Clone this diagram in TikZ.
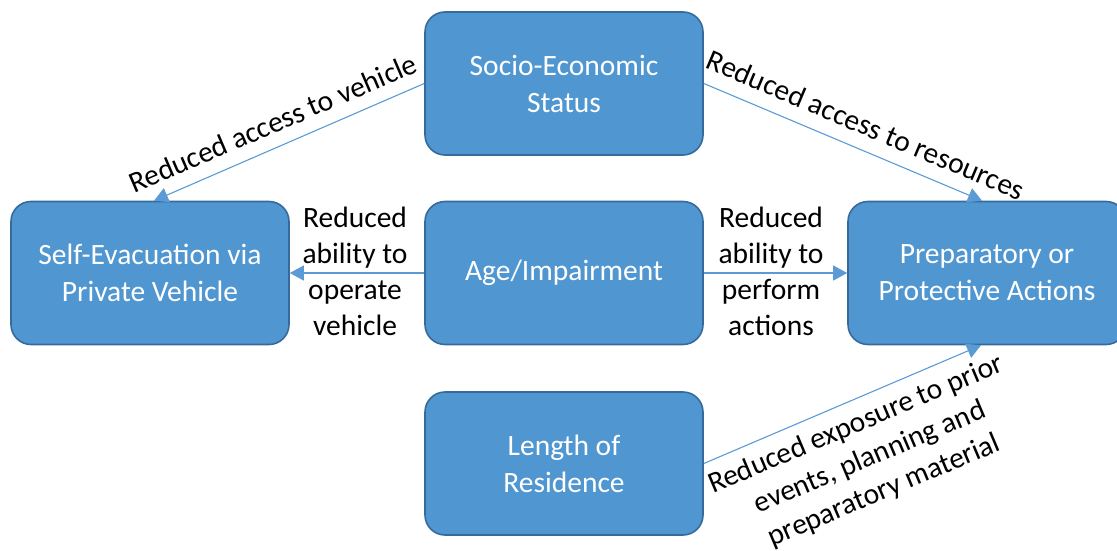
\documentclass[tikz,border=0pt]{standalone}
\usepackage{fontspec}
\setmainfont{Carlito}
\usetikzlibrary{arrows.meta}
\definecolor{boxfill}{RGB}{80,150,208}
\definecolor{boxline}{RGB}{55,106,156}
\definecolor{arrowc}{RGB}{91,155,213}
\tikzset{
  box/.style={rectangle, rounded corners=20pt, fill=boxfill, draw=boxline, line width=1.6pt,
    minimum width=278pt, minimum height=143pt, text=white, align=center,
    font=\fontsize{29.5}{37}\selectfont, inner sep=0pt},
  lbl/.style={align=center, text=black, font=\fontsize{29.5}{36}\selectfont, inner sep=0pt},
  conn/.style={draw=arrowc, line width=1.1pt, -{Triangle[length=14pt,width=15pt]}}
}
\begin{document}
\begin{tikzpicture}[x=1pt,y=1pt]
\useasboundingbox (0,0) rectangle (1117,-551);
\node[box] (ses) at (564,-83.5) {Socio-Economic\\Status};
\node[box] (self) at (150,-273) {Self-Evacuation via\\Private Vehicle};
\node[box] (age) at (564,-273) {Age/Impairment};
\node[box] (prep) at (987,-273) {Preparatory or\\Protective Actions};
\node[box] (len) at (564,-463.5) {Length of\\Residence};

\draw[conn] (ses.west) -- ([xshift=4pt]self.north);
\draw[conn] (ses.east) -- ([xshift=-5pt]prep.north);
\draw[conn] (age.west) -- (self.east);
\draw[conn] (age.east) -- (prep.west);
\draw[conn] (len.east) -- ([xshift=-6pt]prep.south);

\node[lbl, rotate=23.2] (l1) at (273,-123) {Reduced access to vehicle};
\node[lbl, rotate=-22.9] (l2) at (866,-125) {Reduced access to resources};
\node[lbl] (l3) at (355,-271) {Reduced\\ability to\\operate\\vehicle};
\node[lbl] (l4) at (771,-271) {Reduced\\ability to\\perform\\actions};
\node[lbl, rotate=22.9] (l5) at (870,-458) {Reduced exposure to prior\\events, planning and\\preparatory material};
\end{tikzpicture}
\end{document}
